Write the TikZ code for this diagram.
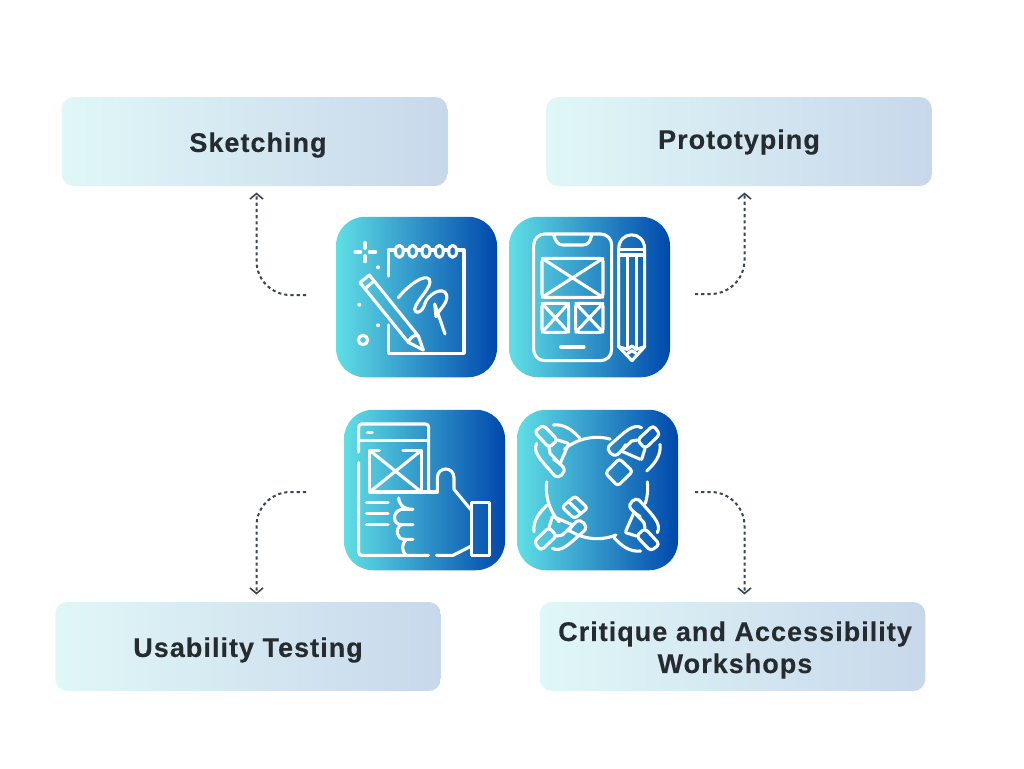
\documentclass[tikz,border=0pt]{standalone}
\usepackage{fontspec}
\setmainfont{Liberation Sans}[LetterSpace=3.8,BoldFeatures={FakeBold=0.25}]
\usetikzlibrary{arrows.meta}
\definecolor{boxL}{HTML}{E0F7F7}
\definecolor{boxR}{HTML}{C8D8EB}
\definecolor{icoL}{HTML}{60DFE5}
\definecolor{icoR}{HTML}{0048AC}
\definecolor{inkc}{HTML}{262B30}
\definecolor{connc}{HTML}{3C4650}
\tikzset{
  card/.style={rectangle,rounded corners=12pt,minimum width=385.5pt,minimum height=89pt,inner sep=0pt,left color=boxL,right color=boxR,draw=none},
  caption/.style={inner sep=0pt,font=\fontsize{27}{32}\selectfont\bfseries,text=inkc,align=center},
  tile/.style={rectangle,rounded corners=29pt,minimum width=161pt,minimum height=160.5pt,inner sep=0pt,left color=icoL,right color=icoR,draw=none},
  conn/.style={draw=connc,line width=2pt,dash pattern=on 3.2pt off 3pt,rounded corners=34pt,-{Straight Barb[length=5.5pt,width=13pt,line width=1.6pt]}},
  glyph/.style={draw=white,line width=3.1pt,line cap=round,line join=round,fill=none},
  zoomed/.style={x=0.33333pt,y=-0.33333pt},
}
\newcommand{\handglyph}{%
  \draw[glyph,rounded corners=3.5pt] (97,69)--(140,114)--(114,137)--(70,89)--cycle;
  \draw[glyph] (77,124) .. controls (65,150) and (85,170) .. (132,222) .. controls (142,232) and (168,212) .. (157,196) -- (117,154) -- (114,137);
  \draw[glyph] (140,114) -- (172,124);
  \draw[glyph] (128,172) -- (147,185) -- (172,128);
  \draw[glyph] (127,69) .. controls (160,65) and (185,85) .. (207,109);
}
\begin{document}
\begin{tikzpicture}[x=1pt,y=-1pt]
\useasboundingbox[fill=white] (0,0) rectangle (1024,768);
% cards
\node[card] (sk) at (254.5,141.5) {};
\node[card] (pr) at (739,141.5) {};
\node[card] (us) at (248,646.5) {};
\node[card] (cr) at (732.5,646.5) {};
\node[caption] (skt) at (258,145) {Sketching};
\node[caption] (prt) at (739,142) {Prototyping};
\node[caption] (ust) at (248,650) {Usability Testing};
\node[caption] (crt) at (735,650) {Critique and Accessibility\\Workshops};
% tiles
\node[tile] (i1) at (416.5,297) {};
\node[tile] (i2) at (589.5,297) {};
\node[tile] (i3) at (424.5,490) {};
\node[tile] (i4) at (597.5,490) {};
% connectors
\coordinate (a1) at (306,295); \coordinate (b1) at (256.5,192.5);
\coordinate (a2) at (695,294); \coordinate (b2) at (744.5,192.5);
\coordinate (a3) at (306,492); \coordinate (b3) at (256.5,594.5);
\coordinate (a4) at (695,492); \coordinate (b4) at (744.5,594.5);
\draw[conn] (a1) -| (b1);
\draw[conn] (a2) -| (b2);
\draw[conn] (a3) -| (b3);
\draw[conn] (a4) -| (b4);
% icon 1
\begin{scope}[shift={(330,210)},zoomed]
\draw[glyph] (75,126)--(92,126) (118,126)--(137,126) (105,98)--(105,115) (105,137)--(105,155);
\fill[white] (144,172) circle[radius=6] (88,284) circle[radius=6] (144,346) circle[radius=6];
\draw[glyph] (99,390) circle[radius=14];
\draw[glyph] (175,198)--(175,120)--(195,120) (222,120)--(235,120) (262,120)--(275,120) (302,120)--(315,120) (342,120)--(355,120) (382,120)--(402,120)--(402,430)--(175,430)--(175,345);
\foreach \q in {208,248,288,328,368} \draw[glyph] (\q,124) ellipse[x radius=12,y radius=18];
\draw[glyph] (90,218)--(118,195)--(265,378)--(280,420)--(235,397)--cycle;
\draw[glyph] (105,236)--(132,213);
\draw[glyph] (235,397) .. controls (238,385) and (255,370) .. (265,378);
\draw[glyph] (205,263) .. controls (235,225) and (285,190) .. (298,208) .. controls (310,230) and (258,270) .. (254,298) .. controls (254,315) and (278,308) .. (285,280) .. controls (292,255) and (340,225) .. (350,255) .. controls (355,280) and (325,300) .. (318,320) -- (314,282) -- (345,372);
\end{scope}
% icon 2
\begin{scope}[shift={(503,210)},zoomed]
\draw[glyph,rounded corners=11pt] (92,72) rectangle (326,452);
\draw[glyph] (152,75) .. controls (158,95) and (165,105) .. (180,105) -- (240,105) .. controls (255,105) and (262,95) .. (266,75);
\draw[glyph,rounded corners=3pt] (117,145) rectangle (300,262);
\draw[glyph] (117,145)--(300,262) (300,145)--(117,262);
\draw[glyph,rounded corners=3pt] (117,280) rectangle (197,367);
\draw[glyph] (117,280)--(197,367) (197,280)--(117,367);
\draw[glyph,rounded corners=3pt] (218,280) rectangle (300,367);
\draw[glyph] (218,280)--(300,367) (300,280)--(218,367);
\draw[glyph] (173,411)--(243,411);
\draw[glyph] (347,410)--(347,118) .. controls (347,60) and (425,60) .. (425,118) -- (425,410) -- (387,452) -- cycle;
\draw[glyph] (347,118)--(425,118) (347,135)--(425,135);
\draw[glyph] (373,135)--(373,418) (400,135)--(400,418);
\draw[glyph] (347,410)--(373,418)--(387,408)--(400,418)--(425,410);
\draw[glyph] (375,430)--(387,422)--(399,430);
\end{scope}
% icon 3
\begin{scope}[shift={(338,402)},zoomed]
\draw[glyph,rounded corners=3pt] (62,150)--(62,66)--(272,66)--(272,270);
\draw[glyph,rounded corners=3pt] (62,182)--(62,460)--(272,460);
\draw[glyph] (62,115)--(272,115);
\draw[glyph] (88,92)--(103,92);
\draw[glyph] (125,145)--(95,145)--(95,270)--(298,270);
\draw[glyph] (195,145)--(250,145)--(250,270);
\draw[glyph] (95,145)--(250,270) (250,145)--(95,270);
\draw[glyph] (85,302)--(150,302) (85,335)--(150,335) (85,368)--(150,368);
\draw[glyph] (298,270)--(298,228) .. controls (298,192) and (348,192) .. (348,228) -- (348,262) -- (400,325);
\draw[glyph] (400,302) rectangle (455,460);
\draw[glyph] (295,460)--(345,460)--(400,432);
\draw[glyph] (182,288) .. controls (182,300) and (190,322) .. (225,322) -- (190,322) .. controls (160,330) and (165,368) .. (190,368) -- (225,368) -- (190,368) .. controls (170,380) and (175,412) .. (200,412) -- (225,412) -- (205,412) .. controls (190,425) and (190,450) .. (205,460);
\end{scope}
% icon 4
\begin{scope}[shift={(511,402)},zoomed]
\draw[glyph] plot[domain=75:130,samples=20] ({258+152*cos(\x)},{258-152*sin(\x)});
\draw[glyph] plot[domain=-18:7,samples=12] ({258+152*cos(\x)},{258-152*sin(\x)});
\draw[glyph] plot[domain=-122:-68,samples=20] ({258+152*cos(\x)},{258-152*sin(\x)});
\draw[glyph] plot[domain=173:222,samples=20] ({258+152*cos(\x)},{258-152*sin(\x)});
\handglyph
\begin{scope}[rotate around={90:(258,258)}]\handglyph\end{scope}
\begin{scope}[rotate around={180:(258,258)}]\handglyph\end{scope}
\begin{scope}[rotate around={270:(258,258)}]\handglyph\end{scope}
\draw[glyph,rounded corners=3pt] (325,170)--(365,208)--(320,252)--(283,213)--cycle;
\draw[glyph,rounded corners=3pt] (192,282)--(230,318)--(190,350)--(153,315)--cycle;
\draw[glyph] (172,298)--(210,335);
\end{scope}
\end{tikzpicture}
\end{document}
